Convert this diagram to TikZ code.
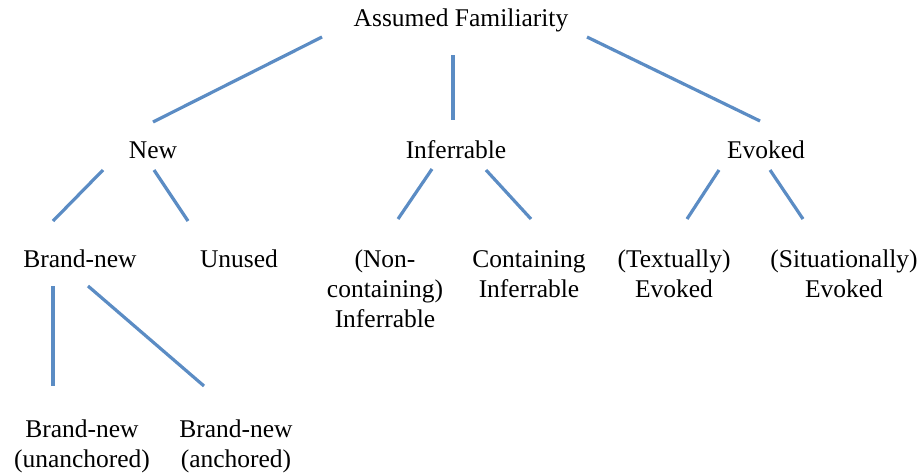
\documentclass[tikz,border=0pt]{standalone}
\usepackage{fontspec}
\setmainfont{Liberation Serif}
\usepackage{tikz}
\usetikzlibrary{positioning}
\definecolor{linkblue}{HTML}{5B8CC4}

\begin{document}
\begin{tikzpicture}[
  x=1pt,y=-1pt,
  term/.style={align=center,inner sep=0pt,
               font=\fontsize{25.5}{30}\selectfont},
  link/.style={linkblue,line width=3.2pt}
]
\useasboundingbox (0,0) rectangle (917,472);

% categories
\node[term] (af)   at (461,20)  {Assumed Familiarity};
\node[term] (new)  at (153,150) {New};
\node[term] (inf)  at (456,150) {Inferrable};
\node[term] (evk)  at (766,150) {Evoked};
\node[term] (bnew) at (80,259)  {Brand-new};
\node[term] (unus) at (239,259) {Unused};
\node[term] (ncin) at (385,289) {(Non-\\containing)\\Inferrable};
\node[term] (coin) at (529,274) {Containing\\Inferrable};
\node[term] (txev) at (674,274) {(Textually)\\Evoked};
\node[term] (siev) at (844,274) {(Situationally)\\Evoked};
\node[term] (unan) at (82,446)  {Brand-new\\(unanchored)};
\node[term] (anch) at (236,446) {Brand-new\\(anchored)};

% line ends
\coordinate (af-l)   at (322,37);  \coordinate (new-t)  at (153,122);
\coordinate (af-m)   at (453,55);  \coordinate (inf-t)  at (453,120);
\coordinate (af-r)   at (587,37);  \coordinate (evk-t)  at (760,121);
\coordinate (new-l)  at (103,170); \coordinate (bnew-t) at (53,221);
\coordinate (new-r)  at (154,170); \coordinate (unus-t) at (188,221);
\coordinate (inf-l)  at (432,169); \coordinate (ncin-t) at (398,219);
\coordinate (inf-r)  at (486,170); \coordinate (coin-t) at (531,219);
\coordinate (evk-l)  at (719,170); \coordinate (txev-t) at (687,219);
\coordinate (evk-r)  at (770,170); \coordinate (siev-t) at (803,219);
\coordinate (bnew-l) at (53,286);  \coordinate (unan-t) at (53,386);
\coordinate (bnew-r) at (88,286);  \coordinate (anch-t) at (204,386);

\draw[link] (af-l) -- (new-t);
\draw[link] (af-m) -- (inf-t);
\draw[link] (af-r) -- (evk-t);
\draw[link] (new-l) -- (bnew-t);
\draw[link] (new-r) -- (unus-t);
\draw[link] (inf-l) -- (ncin-t);
\draw[link] (inf-r) -- (coin-t);
\draw[link] (evk-l) -- (txev-t);
\draw[link] (evk-r) -- (siev-t);
\draw[link] (bnew-l) -- (unan-t);
\draw[link] (bnew-r) -- (anch-t);
\end{tikzpicture}
\end{document}
